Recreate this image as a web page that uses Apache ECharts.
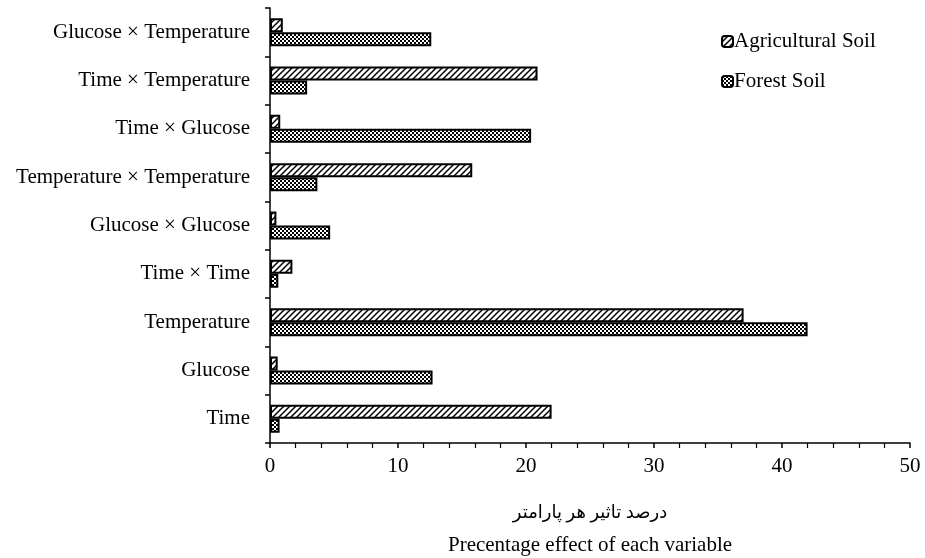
<!DOCTYPE html>
<html>
<head>
<meta charset="utf-8">
<script src="https://cdn.jsdelivr.net/npm/echarts@6/dist/echarts.min.js"></script>
<style>html,body{margin:0;padding:0;background:#fff}#c{width:925px;height:558px}</style>
</head>
<body>
<div id="c"></div>
<script>
const categories = ['Time', 'Glucose', 'Temperature', 'Time × Time', 'Glucose × Glucose', 'Temperature × Temperature', 'Time × Glucose', 'Time × Temperature', 'Glucose × Temperature'];
const agriculturalSoil = [22.0, 0.6, 37.0, 1.75, 0.5, 15.8, 0.8, 20.9, 1.0];
const forestSoil = [0.75, 12.7, 42.0, 0.65, 4.7, 3.7, 20.4, 2.9, 12.6];
const xTicks = [0, 10, 20, 30, 40, 50];

function hatch() {
  const c = document.createElement('canvas');
  c.width = 6; c.height = 6;
  const g = c.getContext('2d');
  g.fillStyle = '#fff'; g.fillRect(0, 0, 6, 6);
  g.strokeStyle = '#000'; g.lineWidth = 1.5;
  g.beginPath();
  g.moveTo(-1, 7); g.lineTo(7, -1);
  g.moveTo(-1, 1); g.lineTo(1, -1);
  g.moveTo(5, 7); g.lineTo(7, 5);
  g.stroke();
  return c;
}
function checker() {
  const c = document.createElement('canvas');
  c.width = 4; c.height = 4;
  const g = c.getContext('2d');
  g.fillStyle = '#fff'; g.fillRect(0, 0, 4, 4);
  g.fillStyle = '#000';
  g.fillRect(0, 0, 2, 2); g.fillRect(2, 2, 2, 2);
  return c;
}
const agriFill = { image: hatch(), repeat: 'repeat' };
const forestFill = { image: checker(), repeat: 'repeat' };
const font = "'Liberation Serif', 'Times New Roman', 'DejaVu Sans', serif";

const chart = echarts.init(document.getElementById('c'), null, { renderer: 'canvas' });
chart.setOption({
  animation: false,
  textStyle: { fontFamily: font },
  grid: { left: 270, right: 15, top: 8, bottom: 115, outerBoundsMode: 'none', containLabel: false },
  legend: {
    orient: 'vertical', left: 716, top: 26, itemGap: 19,
    itemWidth: 11, itemHeight: 11,
    data: ['Agricultural Soil', 'Forest Soil'],
    textStyle: { fontFamily: font, fontSize: 21, lineHeight: 21, color: '#000', padding: [0, 0, 0, -4] }
  },
  xAxis: {
    type: 'value', min: xTicks[0], max: xTicks[xTicks.length - 1], interval: 10,
    splitLine: { show: false },
    axisLine: { show: true, lineStyle: { color: '#000', width: 1.5 } },
    axisTick: { show: true, length: 5, lineStyle: { color: '#000', width: 1.5 } },
    minorTick: { show: true, splitNumber: 5, length: 5, lineStyle: { color: '#000', width: 1.2 } },
    axisLabel: { color: '#000', fontSize: 21, margin: 13, fontFamily: font },
    name: '{a|درصد تاثیر هر پارامتر}\n{b|Precentage effect of each variable}',
    nameLocation: 'middle', nameGap: 54,
    nameTextStyle: {
      color: '#000', fontSize: 21, lineHeight: 32, fontFamily: font,
      rich: {
        a: { fontSize: 18, lineHeight: 32, fontFamily: font, color: '#000' },
        b: { fontSize: 21, lineHeight: 32, fontFamily: font, color: '#000' }
      }
    }
  },
  yAxis: {
    type: 'category', data: categories,
    axisLine: { show: true, lineStyle: { color: '#000', width: 1.5 } },
    axisTick: { show: true, length: 5, lineStyle: { color: '#000', width: 1.5 } },
    axisLabel: { color: '#000', fontSize: 21, margin: 20, fontFamily: font }
  },
  series: [
    {
      name: 'Agricultural Soil', type: 'bar', data: agriculturalSoil,
      barGap: '0%', barCategoryGap: '42%',
      itemStyle: { color: agriFill, borderColor: '#000', borderWidth: 2 }
    },
    {
      name: 'Forest Soil', type: 'bar', data: forestSoil,
      barGap: '0%', barCategoryGap: '42%',
      itemStyle: { color: forestFill, borderColor: '#000', borderWidth: 2 }
    }
  ]
});
</script>
</body>
</html>
